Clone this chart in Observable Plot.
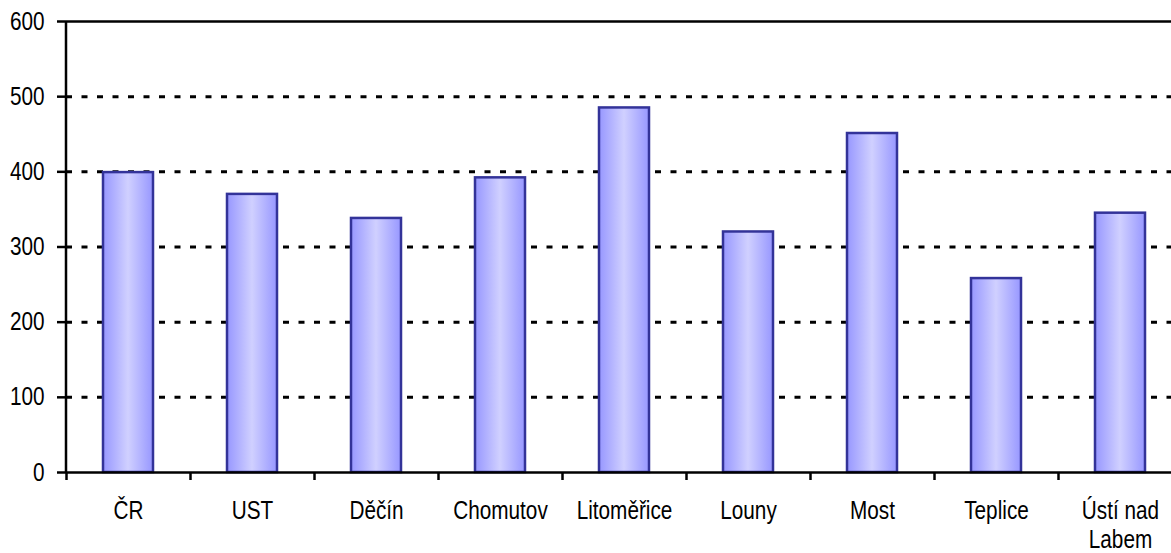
<!DOCTYPE html>
<html>
<head>
<meta charset="utf-8">
<script src="https://cdn.jsdelivr.net/npm/d3@7"></script>
<script src="https://cdn.jsdelivr.net/npm/@observablehq/plot@0.6"></script>
<style>
  html, body { margin: 0; padding: 0; background: white; }
  #chart { width: 1171px; height: 553px; overflow: hidden; }
</style>
</head>
<body>
<div id="chart"></div>
<script>
const categories = ["ČR", "UST", "Děčín", "Chomutov", "Litoměřice", "Louny", "Most", "Teplice", "Ústí nad\nLabem"];
const values = [399, 370, 338, 392, 485, 320, 451, 258, 345];
const yTicks = [0, 100, 200, 300, 400, 500, 600];
const gridValues = [100, 200, 300, 400, 500];

const data = categories.map((c, i) => ({category: c, value: values[i]}));

const fontFamily = "'Liberation Sans', Arial, sans-serif";
const fontSize = 25;
const condense = 0.83; // reference lettering is horizontally condensed

const left = 66;
const step = 124;
const xRange = [left, left + step * categories.length];

const gradientDefs = () => {
  const defs = d3.create("svg:defs");
  const g = defs.append("linearGradient").attr("id", "barGrad")
    .attr("x1", "0").attr("x2", "1").attr("y1", "0").attr("y2", "0");
  g.append("stop").attr("offset", "0%").attr("stop-color", "#9797ff");
  g.append("stop").attr("offset", "50%").attr("stop-color", "#d0d0ff");
  g.append("stop").attr("offset", "100%").attr("stop-color", "#9797ff");
  return defs.node();
};

const yAxisLine = (index, scales, values, dims) => {
  const l = d3.create("svg:line")
    .attr("x1", dims.marginLeft).attr("x2", dims.marginLeft)
    .attr("y1", scales.y(yTicks[yTicks.length - 1])).attr("y2", scales.y(0))
    .attr("stroke", "black").attr("stroke-width", 2.5);
  return l.node();
};

const chart = Plot.plot({
  width: 1171,
  height: 553,
  marginTop: 21,
  marginBottom: 81,
  marginLeft: left,
  marginRight: 0,
  style: {fontFamily, fontSize: fontSize + "px", color: "black", background: "white"},
  x: {domain: categories, range: xRange, paddingInner: 0.6, paddingOuter: 0.3, label: null},
  y: {domain: [0, 600], label: null},
  marks: [
    gradientDefs,
    Plot.ruleY(gridValues, {stroke: "black", strokeWidth: 3, strokeDasharray: "6,9.5"}),
    Plot.ruleY([600], {stroke: "black", strokeWidth: 2.5}),
    Plot.barY(data, {x: "category", y: "value", fill: "url(#barGrad)", stroke: "#333399", strokeWidth: 2.5}),
    Plot.ruleY([0], {stroke: "black", strokeWidth: 2.5}),
    yAxisLine,
    Plot.axisY({ticks: yTicks, tickSize: 9, tickPadding: 13, strokeWidth: 2.5, fontSize, label: null}),
    Plot.axisX({tickSize: 8, tickFormat: () => "", dx: -step / 2, strokeWidth: 2.5, label: null}),
    Plot.axisX({tickSize: 0, tickPadding: 26, fontSize, lineHeight: 1.16, label: null})
  ]
});

// condense the tick labels horizontally around their anchor
d3.select(chart).selectAll('g[aria-label="x-axis tick label"] text, g[aria-label="y-axis tick label"] text')
  .each(function () {
    const t = this.getAttribute("transform");
    if (t) {
      this.setAttribute("transform", t + ` scale(${condense},1)`);
    } else {
      const x = this.getAttribute("x") || 0, y = this.getAttribute("y") || 0;
      this.removeAttribute("x"); this.removeAttribute("y");
      this.setAttribute("transform", `translate(${x},${y}) scale(${condense},1)`);
    }
  });

document.getElementById("chart").appendChild(chart);
</script>
</body>
</html>
